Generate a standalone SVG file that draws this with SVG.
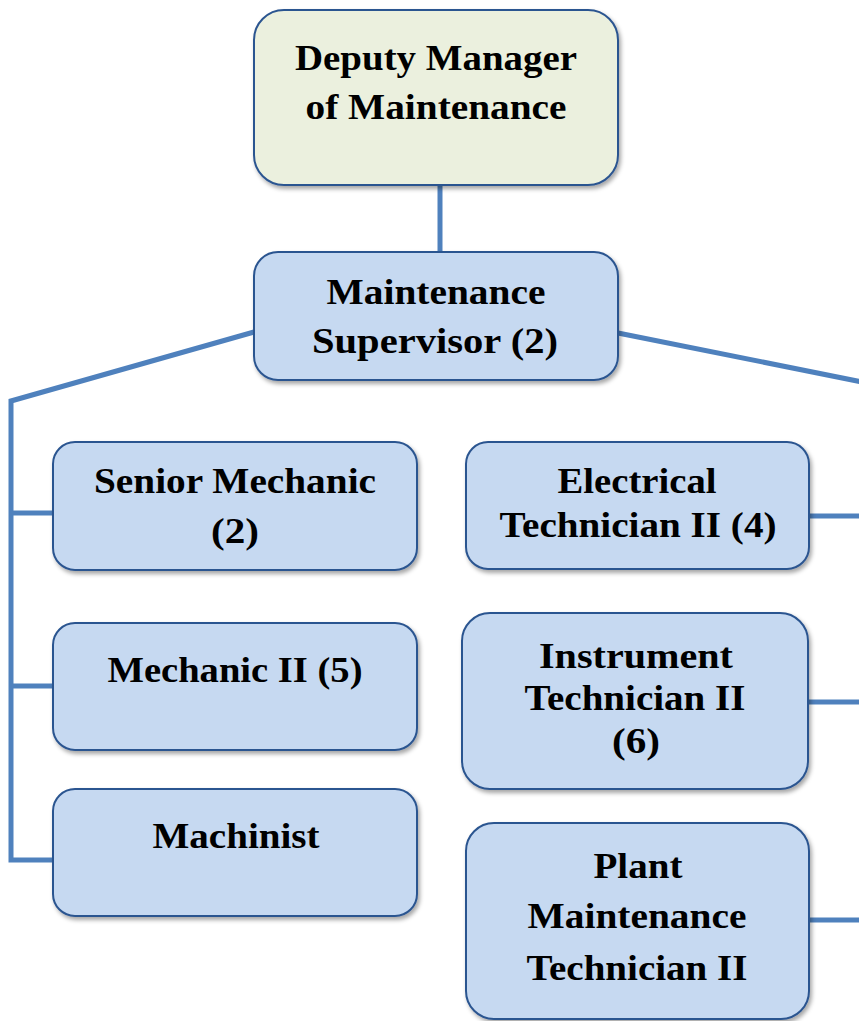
<svg xmlns="http://www.w3.org/2000/svg" width="859" height="1021" viewBox="0 0 859 1021">
<defs>
<filter id="sh" x="-10%" y="-10%" width="130%" height="130%">
<feDropShadow dx="2" dy="3" stdDeviation="2" flood-color="#000" flood-opacity="0.35"/>
</filter>
<style>
.box{fill:#c6d9f1;stroke:#2c5590;stroke-width:2;filter:url(#sh)}
.top{fill:#ebf0de}
.t{font-family:"Liberation Serif","Times New Roman",serif;font-weight:bold;font-size:35px;fill:#000;text-anchor:middle}
.c{fill:none;stroke:#4f81bd;stroke-width:5}
</style>
</defs>
<rect width="859" height="1021" fill="#fff"/>
<g id="connectors">
<line class="c" x1="440" y1="185" x2="440" y2="252"/>
<polyline class="c" points="254,332 11,401 11,860 53,860"/>
<line class="c" x1="11" y1="513" x2="53" y2="513"/>
<line class="c" x1="11" y1="686" x2="53" y2="686"/>
<line class="c" x1="618" y1="333" x2="862" y2="382"/>
<line class="c" x1="809" y1="516" x2="859" y2="516"/>
<line class="c" x1="808" y1="702" x2="859" y2="702"/>
<line class="c" x1="809" y1="920" x2="859" y2="920"/>
</g>
<g id="deputy">
<rect class="box top" x="254" y="10" width="364" height="175" rx="30"/>
<text class="t" x="436" y="70" textLength="282" lengthAdjust="spacingAndGlyphs">Deputy Manager</text>
<text class="t" x="436" y="119" textLength="261" lengthAdjust="spacingAndGlyphs">of Maintenance</text>
</g>
<g id="supervisor">
<rect class="box" x="254" y="252" width="364" height="128" rx="24"/>
<text class="t" x="436" y="304" textLength="219" lengthAdjust="spacingAndGlyphs">Maintenance</text>
<text class="t" x="435" y="353" textLength="246" lengthAdjust="spacingAndGlyphs">Supervisor (2)</text>
</g>
<g id="senior-mechanic">
<rect class="box" x="53" y="442" width="364" height="128" rx="22"/>
<text class="t" x="235" y="493" textLength="282" lengthAdjust="spacingAndGlyphs">Senior Mechanic</text>
<text class="t" x="235" y="543" textLength="48" lengthAdjust="spacingAndGlyphs">(2)</text>
</g>
<g id="mechanic-ii">
<rect class="box" x="53" y="623" width="364" height="127" rx="22"/>
<text class="t" x="235" y="682" textLength="255" lengthAdjust="spacingAndGlyphs">Mechanic II (5)</text>
</g>
<g id="machinist">
<rect class="box" x="53" y="789" width="364" height="127" rx="22"/>
<text class="t" x="236" y="848" textLength="167" lengthAdjust="spacingAndGlyphs">Machinist</text>
</g>
<g id="electrical">
<rect class="box" x="466" y="442" width="343" height="127" rx="22"/>
<text class="t" x="637" y="493" textLength="159" lengthAdjust="spacingAndGlyphs">Electrical</text>
<text class="t" x="638" y="537" textLength="277" lengthAdjust="spacingAndGlyphs">Technician II (4)</text>
</g>
<g id="instrument">
<rect class="box" x="462" y="613" width="346" height="176" rx="28"/>
<text class="t" x="636" y="668" textLength="194" lengthAdjust="spacingAndGlyphs">Instrument</text>
<text class="t" x="635" y="710" textLength="221" lengthAdjust="spacingAndGlyphs">Technician II</text>
<text class="t" x="636" y="753" textLength="48" lengthAdjust="spacingAndGlyphs">(6)</text>
</g>
<g id="plant">
<rect class="box" x="466" y="823" width="343" height="196" rx="28"/>
<text class="t" x="638" y="878" textLength="89" lengthAdjust="spacingAndGlyphs">Plant</text>
<text class="t" x="637" y="928" textLength="219" lengthAdjust="spacingAndGlyphs">Maintenance</text>
<text class="t" x="637" y="980" textLength="221" lengthAdjust="spacingAndGlyphs">Technician II</text>
</g>
</svg>
